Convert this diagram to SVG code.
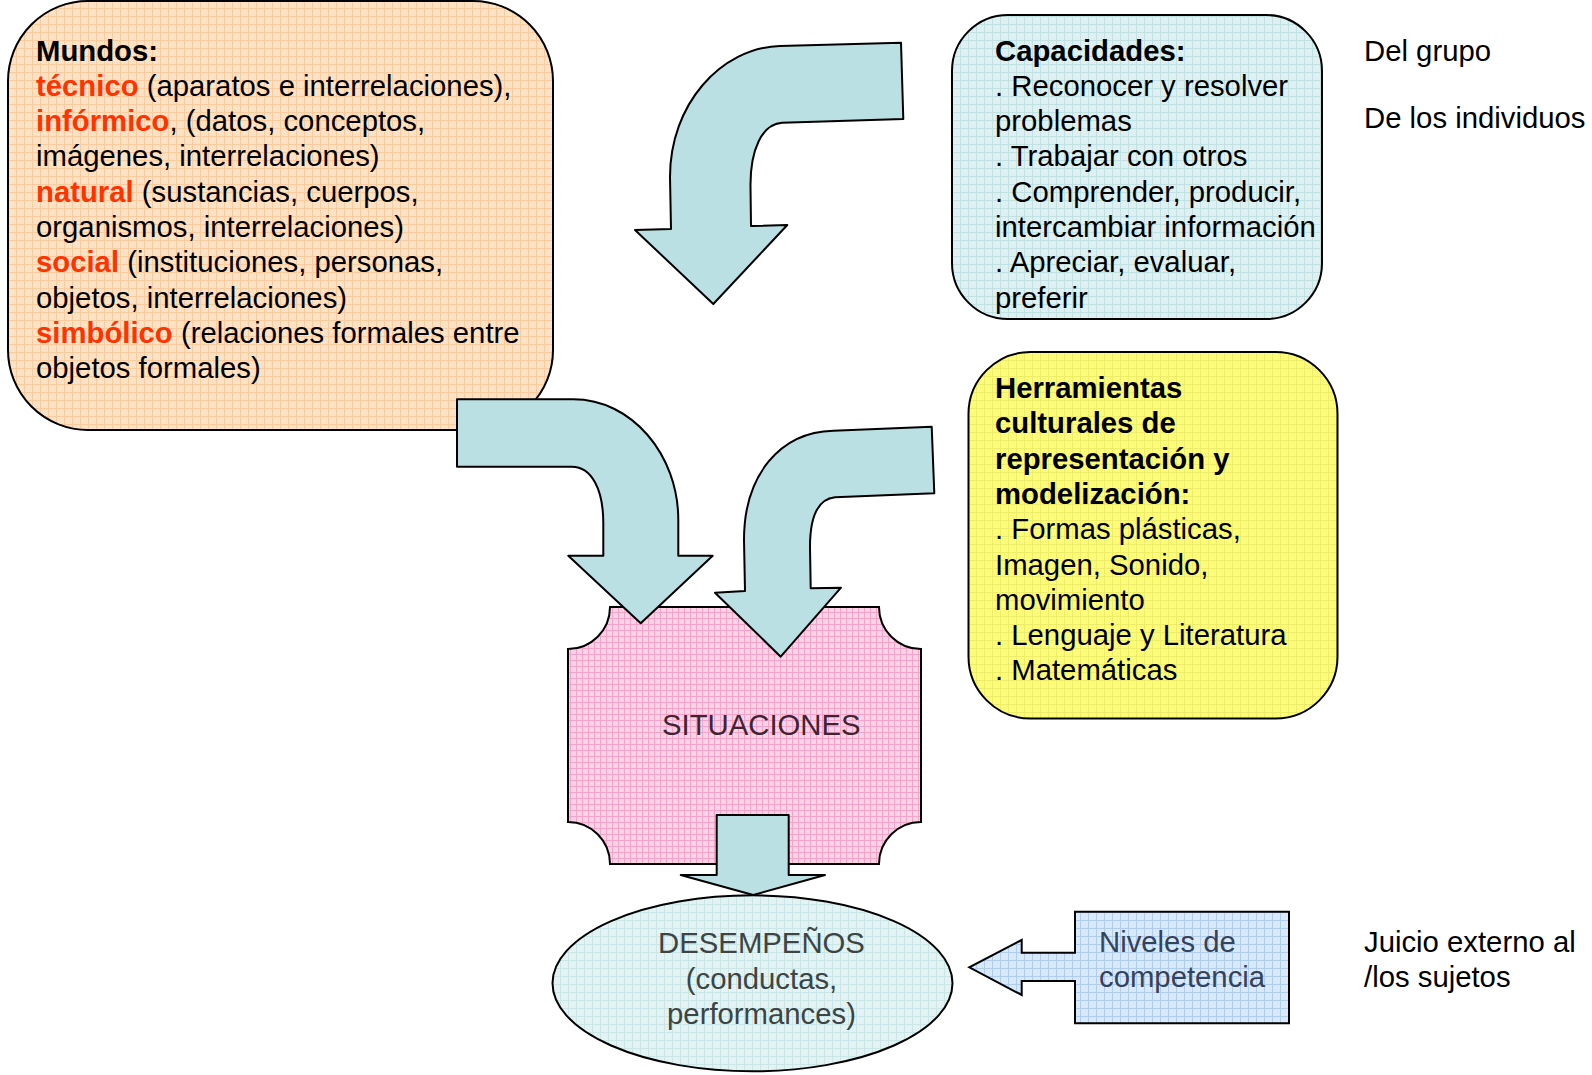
<svg xmlns="http://www.w3.org/2000/svg" width="1592" height="1075" viewBox="0 0 1592 1075">
<style>
text{font-family:"Liberation Sans",Arial,sans-serif;font-size:29.3px;fill:#000}
.b{font-weight:bold}
.r{fill:#ff3300;font-weight:bold}
.box{stroke:#000;stroke-width:2}
.arr{fill:#bbe0e3;stroke:#000;stroke-width:2;stroke-linejoin:round}
</style>
<defs>
<pattern id="pPeach" width="8" height="8" patternUnits="userSpaceOnUse"><rect width="8" height="8" fill="#fde2c6"/><path d="M0 0.5H8M0.5 0V8" stroke="#f9cb9f" stroke-width="1"/></pattern>
<pattern id="pCyan" width="8" height="8" patternUnits="userSpaceOnUse"><rect width="8" height="8" fill="#def0f1"/><path d="M0 0.5H8M0.5 0V8" stroke="#c2e1e2" stroke-width="1"/></pattern>
<pattern id="pYellow" width="8" height="8" patternUnits="userSpaceOnUse"><rect width="8" height="8" fill="#fdfc7a"/><path d="M0 0.5H8M0.5 0V8" stroke="#eded6a" stroke-width="1"/></pattern>
<pattern id="pPink" width="6" height="6" patternUnits="userSpaceOnUse"><rect width="6" height="6" fill="#fbd3e6"/><path d="M0 0.5H6M0.5 0V6" stroke="#f5a3c9" stroke-width="1"/></pattern>
<pattern id="pMint" width="8" height="8" patternUnits="userSpaceOnUse"><rect width="8" height="8" fill="#e3f3f3"/><path d="M0 0.5H8M0.5 0V8" stroke="#cbe6e6" stroke-width="1"/></pattern>
<pattern id="pBlue" width="8" height="8" patternUnits="userSpaceOnUse"><rect width="8" height="8" fill="#d9e9fc"/><path d="M0 0.5H8M0.5 0V8" stroke="#b0cdf0" stroke-width="1"/></pattern>
</defs>

<g id="mundos">
<rect class="box" x="8" y="1" width="545" height="429" rx="80" ry="80" fill="url(#pPeach)"/>
<text x="36" y="60.5" class="b">Mundos:</text>
<text x="36" y="95.8"><tspan class="r">técnico</tspan> (aparatos e interrelaciones),</text>
<text x="36" y="131.1"><tspan class="r">infórmico</tspan>, (datos, conceptos,</text>
<text x="36" y="166.4">imágenes, interrelaciones)</text>
<text x="36" y="201.7"><tspan class="r">natural</tspan> (sustancias, cuerpos,</text>
<text x="36" y="237">organismos, interrelaciones)</text>
<text x="36" y="272.3"><tspan class="r">social</tspan> (instituciones, personas,</text>
<text x="36" y="307.6">objetos, interrelaciones)</text>
<text x="36" y="342.9"><tspan class="r">simbólico</tspan> (relaciones formales entre</text>
<text x="36" y="378.2">objetos formales)</text>
</g>

<g id="capacidades">
<rect class="box" x="952" y="15" width="370" height="304" rx="56" ry="56" fill="url(#pCyan)"/>
<text x="995" y="60.5" class="b">Capacidades:</text>
<text x="995" y="95.8">. Reconocer y resolver</text>
<text x="995" y="131.1">problemas</text>
<text x="995" y="166.4">. Trabajar con otros</text>
<text x="995" y="201.7">. Comprender, producir,</text>
<text x="995" y="237">intercambiar información</text>
<text x="995" y="272.3">. Apreciar, evaluar,</text>
<text x="995" y="307.6">preferir</text>
</g>

<g id="labels-capacidades">
<text x="1364" y="60.5">Del grupo</text>
<text x="1364" y="128">De los individuos</text>
</g>

<g id="herramientas">
<rect class="box" x="968.5" y="352" width="369" height="366.5" rx="62" ry="62" fill="url(#pYellow)"/>
<text x="995" y="398" class="b">Herramientas</text>
<text x="995" y="433.3" class="b">culturales de</text>
<text x="995" y="468.6" class="b">representación y</text>
<text x="995" y="503.9" class="b">modelización:</text>
<text x="995" y="539.2">. Formas plásticas,</text>
<text x="995" y="574.5">Imagen, Sonido,</text>
<text x="995" y="609.8">movimiento</text>
<text x="995" y="645.1">. Lenguaje y Literatura</text>
<text x="995" y="680.4">. Matemáticas</text>
</g>

<g id="situaciones">
<path class="box" fill="url(#pPink)" d="M610 607 L879 607 A42 42 0 0 0 921 649 L921 822 A42 42 0 0 0 879 864 L610 864 A42 42 0 0 0 568 822 L568 649 A42 42 0 0 0 610 607 Z"/>
<text x="662" y="735" style="fill:#3d2534">SITUACIONES</text>
</g>

<g id="desempenos">
<ellipse class="box" cx="752.5" cy="983.3" rx="200" ry="88" fill="url(#pMint)"/>
<text x="761.5" y="953" text-anchor="middle" style="fill:#3c4444">DESEMPEÑOS</text>
<text x="761.5" y="988.5" text-anchor="middle" style="fill:#3c4444">(conductas,</text>
<text x="761.5" y="1024" text-anchor="middle" style="fill:#3c4444">performances)</text>
</g>

<g id="niveles">
<path class="box" fill="url(#pBlue)" stroke-linejoin="miter" d="M1075 911.7 L1289 911.7 L1289 1023.3 L1075 1023.3 L1075 981 L1021.7 981 L1021.7 995 L969.3 967.3 L1021.7 940 L1021.7 952.7 L1075 952.7 Z"/>
<text x="1099" y="952" style="fill:#34425a">Niveles de</text>
<text x="1099" y="987" style="fill:#34425a">competencia</text>
</g>

<g id="juicio">
<text x="1364" y="952">Juicio externo al</text>
<text x="1364" y="987">/los sujetos</text>
</g>

<g id="connectors">
<path class="arr" d="M671 229 L670 177 C670 105 720 48 780 46 L901 42.7 L903.3 119 L782 122.7 C762 124 750 150 750.5 187 L751 226 L787.3 225 L713.3 304 L635 230 Z"/>
<path class="arr" d="M457 399.3 L573.3 399.3 C632 399.3 678.3 455 678.3 520 L678.3 555.7 L712.7 555.7 L640.7 623.3 L568.3 555.7 L603.3 555.7 L603.3 523 C603.3 490 592 466.7 571.7 466.7 L457 466.7 Z"/>
<path class="arr" d="M931.7 426.7 L934.3 493.3 L835 497.3 C818 499 810 515 810 547 L810.7 588.3 L841 587.7 L780.7 656.7 L715 592.7 L745 591 L744 540 C744 475 780 432 833.3 430.7 Z"/>
<path class="arr" d="M716.7 815 L788.7 815 L788.7 875 L825 875 L753.3 895 L680.7 875 L716.7 875 Z"/>
</g>
</svg>
